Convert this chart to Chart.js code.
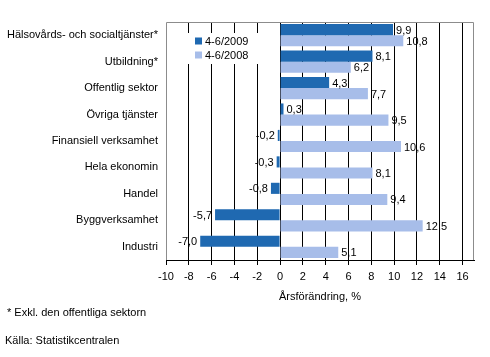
<!DOCTYPE html>
<html><head><meta charset="utf-8">
<script src="https://cdn.jsdelivr.net/npm/chart.js@4.4.1/dist/chart.umd.min.js"></script>
<style>
html,body{margin:0;padding:0;background:#ffffff;}
#wrap{width:490px;height:357px;position:relative;}
</style></head>
<body><div id="wrap"><canvas id="c" width="490" height="357"></canvas></div>
<script>
const categories = ["Hälsovårds- och socialtjänster*","Utbildning*","Offentlig sektor","Övriga tjänster","Finansiell verksamhet","Hela ekonomin","Handel","Byggverksamhet","Industri"];
const seriesNames = ["4-6/2009","4-6/2008"];
const values2009 = [9.9, 8.1, 4.3, 0.3, -0.2, -0.3, -0.8, -5.7, -7.0];
const values2008 = [10.8, 6.2, 7.7, 9.5, 10.6, 8.1, 9.4, 12.5, 5.1];
const xTicks = [-10,-8,-6,-4,-2,0,2,4,6,8,10,12,14,16];
const axisTitle = "Årsförändring, %";
const footnote = "* Exkl. den offentliga sektorn";
const source = "Källa: Statistikcentralen";

const FONT = "'Liberation Sans', Arial, sans-serif";
const colors = ["#1f69b1", "#a7bde9"];

const extras = {
  id: 'extras',
  beforeDraw(chart){
    const ctx = chart.ctx;
    ctx.save();
    ctx.fillStyle = '#ffffff';
    ctx.fillRect(0,0,chart.width,chart.height);
    ctx.restore();
  },
  afterDraw(chart){
    const ctx = chart.ctx;
    const a = chart.chartArea;
    ctx.save();
    // frame
    ctx.strokeStyle = '#8c8c8c';
    ctx.lineWidth = 1;
    ctx.beginPath();
    ctx.moveTo(Math.round(a.left)+0.5, Math.round(a.bottom));
    ctx.lineTo(Math.round(a.left)+0.5, Math.round(a.top)+0.5);
    ctx.lineTo(Math.round(a.right)-0.5, Math.round(a.top)+0.5);
    ctx.lineTo(Math.round(a.right)-0.5, Math.round(a.bottom));
    ctx.stroke();
    // data labels
    ctx.font = '11px ' + FONT;
    ctx.fillStyle = '#000';
    ctx.textBaseline = 'middle';
    chart.data.datasets.forEach((ds, di) => {
      const meta = chart.getDatasetMeta(di);
      meta.data.forEach((el, i) => {
        const v = ds.data[i];
        const txt = v.toFixed(1).replace('.', ',');
        if (v >= 0) { ctx.textAlign = 'left'; ctx.fillText(txt, el.x + 3, el.y + 1); }
        else { ctx.textAlign = 'right'; ctx.fillText(txt, el.x - 3, el.y + 1); }
      });
    });
    // legend
    ctx.fillStyle = '#ffffff';
    ctx.fillRect(185, 33, 77, 31);
    const ly = [41, 55];
    seriesNames.forEach((n, i) => {
      ctx.fillStyle = colors[i];
      ctx.fillRect(195, ly[i]-3.5, 7, 7);
      ctx.fillStyle = '#000';
      ctx.textAlign = 'left';
      ctx.fillText(n, 205, ly[i]+0.5);
    });
    // footnotes
    ctx.textAlign = 'left';
    ctx.fillText(footnote, 7, 313);
    ctx.fillText(source, 5, 341);
    ctx.restore();
  }
};

new Chart(document.getElementById('c'), {
  type: 'bar',
  data: {
    labels: categories,
    datasets: [
      {label: seriesNames[0], data: values2009, backgroundColor: colors[0], borderWidth: 0, categoryPercentage: 0.84, barPercentage: 1.0},
      {label: seriesNames[1], data: values2008, backgroundColor: colors[1], borderWidth: 0, categoryPercentage: 0.84, barPercentage: 1.0}
    ]
  },
  options: {
    indexAxis: 'y',
    responsive: false,
    animation: false,
    devicePixelRatio: 1,
    layout: {padding: {left: 0, right: 16, top: 22, bottom: 49}},
    plugins: {legend: {display: false}, tooltip: {enabled: false}},
    scales: {
      x: {
        min: -10, max: 17,
        afterBuildTicks: (s) => { s.ticks = xTicks.map(v => ({value: v})); },
        afterFit: (s) => { s.height = 48; },
        grid: {
          color: (c) => (c.tick && c.tick.value === -10) ? 'rgba(0,0,0,0)' : '#000000',
          drawOnChartArea: true, drawTicks: true, tickLength: 5, tickColor: '#000', lineWidth: 1
        },
        border: {display: true, color: '#000', width: 1},
        ticks: {color: '#000', font: {family: FONT, size: 11}, padding: 5, maxRotation: 0, autoSkip: false},
        title: {display: true, text: axisTitle, color: '#000', font: {family: FONT, size: 11}, padding: {top: 4, bottom: 4}}
      },
      y: {
        afterFit: (s) => { s.width = 166; },
        grid: {display: false, drawTicks: false},
        border: {display: false},
        ticks: {color: '#000', font: {family: FONT, size: 11}, padding: 8, autoSkip: false}
      }
    }
  },
  plugins: [extras]
});
</script></body></html>
